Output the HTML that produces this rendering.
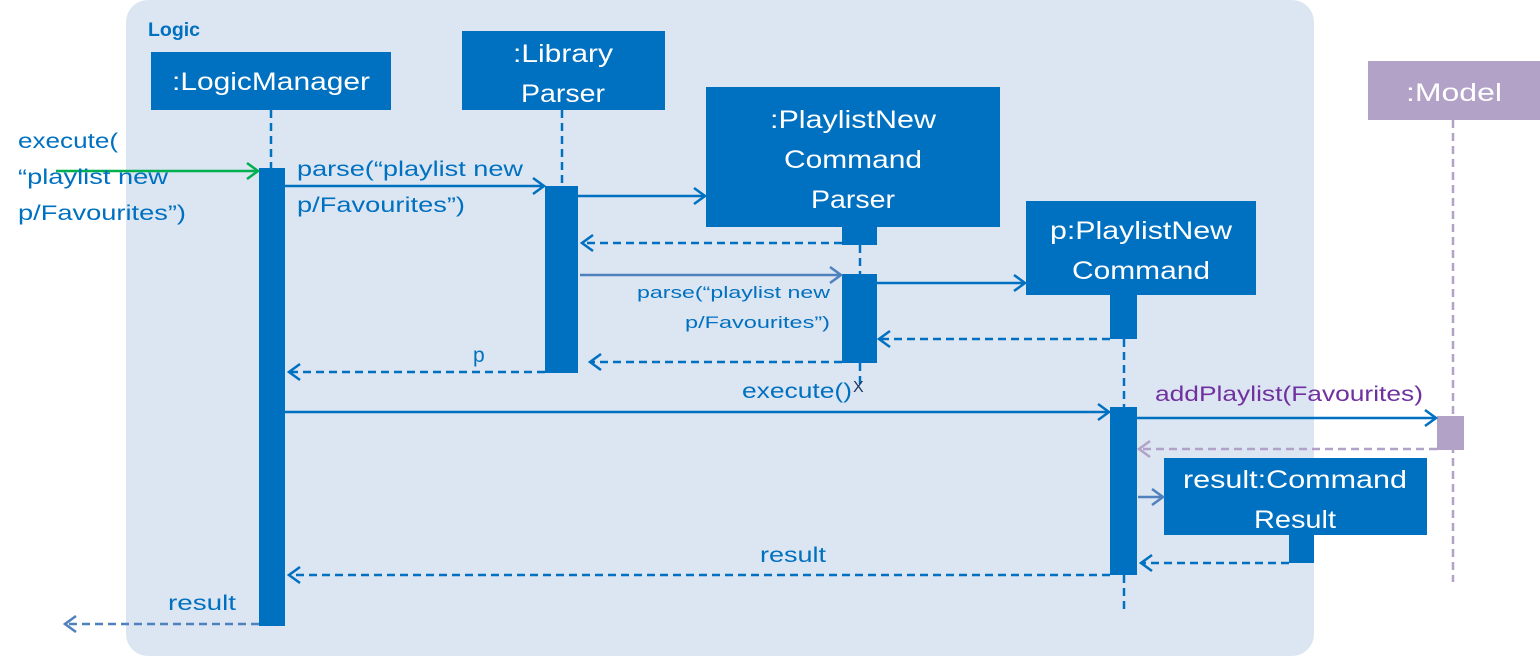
<!DOCTYPE html>
<html><head><meta charset="utf-8"><style>body{margin:0;background:#fff}svg{display:block}text{font-family:"Liberation Sans",sans-serif}</style></head><body>
<svg width="1540" height="656" viewBox="0 0 1540 656" xmlns="http://www.w3.org/2000/svg">
<defs>
<marker id="a" markerWidth="16" markerHeight="20" refX="14" refY="10" orient="auto" markerUnits="userSpaceOnUse"><path d="M3,2 L14,10 L3,18" fill="none" stroke="#0070c0" stroke-width="2.5"/></marker>
<marker id="g" markerWidth="16" markerHeight="20" refX="14" refY="10" orient="auto" markerUnits="userSpaceOnUse"><path d="M3,2 L14,10 L3,18" fill="none" stroke="#00b050" stroke-width="2.5"/></marker>
<marker id="l" markerWidth="16" markerHeight="20" refX="14" refY="10" orient="auto" markerUnits="userSpaceOnUse"><path d="M3,2 L14,10 L3,18" fill="none" stroke="#4f81bd" stroke-width="2.5"/></marker>
<marker id="p" markerWidth="16" markerHeight="20" refX="14" refY="10" orient="auto" markerUnits="userSpaceOnUse"><path d="M3,2 L14,10 L3,18" fill="none" stroke="#b3a2c7" stroke-width="2.5"/></marker>
</defs>
<rect x="126" y="0" width="1188" height="656" rx="22" fill="#dce6f2"/>
<text x="148" y="36" font-size="19" font-weight="bold" fill="#0070c0" textLength="52" lengthAdjust="spacingAndGlyphs">Logic</text>

<g fill="#0070c0">
<rect x="151" y="52" width="240" height="58"/>
<rect x="462" y="31" width="203" height="79"/>
<rect x="706" y="87" width="294" height="140"/>
<rect x="1026" y="201" width="230" height="94"/>
<rect x="1164" y="458" width="263" height="77"/>
<rect x="259" y="168" width="26" height="458"/>
<rect x="545" y="186" width="33" height="187"/>
<rect x="842" y="227" width="35" height="18"/>
<rect x="842" y="274" width="35" height="89"/>
<rect x="1110" y="295" width="27" height="44"/>
<rect x="1110" y="407" width="27" height="168"/>
<rect x="1289" y="535" width="25" height="28"/>
</g>
<rect x="1368" y="61" width="172" height="59" fill="#b3a2c7"/>
<rect x="1437" y="416" width="27" height="34" fill="#b3a2c7"/>

<g fill="#fff" font-size="25" text-anchor="middle">
<text x="271" y="90" textLength="198" lengthAdjust="spacingAndGlyphs">:LogicManager</text>
<text x="563" y="62" textLength="100" lengthAdjust="spacingAndGlyphs">:Library</text>
<text x="563" y="102" textLength="84" lengthAdjust="spacingAndGlyphs">Parser</text>
<text x="853" y="128" textLength="166" lengthAdjust="spacingAndGlyphs">:PlaylistNew</text>
<text x="853" y="168" textLength="138" lengthAdjust="spacingAndGlyphs">Command</text>
<text x="853" y="208" textLength="84" lengthAdjust="spacingAndGlyphs">Parser</text>
<text x="1141" y="239" textLength="182" lengthAdjust="spacingAndGlyphs">p:PlaylistNew</text>
<text x="1141" y="279" textLength="138" lengthAdjust="spacingAndGlyphs">Command</text>
<text x="1295" y="488" textLength="224" lengthAdjust="spacingAndGlyphs">result:Command</text>
<text x="1295" y="528" textLength="82" lengthAdjust="spacingAndGlyphs">Result</text>
<text x="1454" y="101" textLength="96" lengthAdjust="spacingAndGlyphs">:Model</text>
</g>

<g stroke="#0070c0" stroke-width="2.5" stroke-dasharray="8,5" fill="none">
<line x1="271" y1="110" x2="271" y2="168"/>
<line x1="562" y1="110" x2="562" y2="186"/>
<line x1="860" y1="245" x2="860" y2="274"/>
<line x1="860" y1="363" x2="860" y2="385"/>
<line x1="1124" y1="339" x2="1124" y2="407"/>
<line x1="1124" y1="575" x2="1124" y2="614"/>
<line x1="842" y1="243" x2="582" y2="243" marker-end="url(#a)"/>
<line x1="1110" y1="339" x2="879" y2="339" marker-end="url(#a)"/>
<line x1="842" y1="362" x2="590" y2="362" marker-end="url(#a)"/>
<line x1="545" y1="372" x2="289" y2="372" marker-end="url(#a)"/>
<line x1="1289" y1="563" x2="1141" y2="563" marker-end="url(#a)"/>
<line x1="1110" y1="575" x2="289" y2="575" marker-end="url(#a)"/>
</g>
<line x1="259" y1="624" x2="65" y2="624" stroke="#4f81bd" stroke-width="2.5" stroke-dasharray="8,5" marker-end="url(#l)"/>
<line x1="1453" y1="120" x2="1453" y2="582" stroke="#b3a2c7" stroke-width="2.5" stroke-dasharray="8,5"/>
<line x1="1437" y1="449" x2="1139" y2="449" stroke="#b3a2c7" stroke-width="2.5" stroke-dasharray="8,5" marker-end="url(#p)"/>

<g stroke="#0070c0" stroke-width="2.5" fill="none">
<line x1="285" y1="186" x2="544" y2="186" marker-end="url(#a)"/>
<line x1="578" y1="196" x2="705" y2="196" marker-end="url(#a)"/>
<line x1="877" y1="283" x2="1025" y2="283" marker-end="url(#a)"/>
<line x1="285" y1="412" x2="1109" y2="412" marker-end="url(#a)"/>
<line x1="1137" y1="418" x2="1436" y2="418" marker-end="url(#a)"/>
</g>
<line x1="56" y1="171" x2="258" y2="171" stroke="#00b050" stroke-width="2.5" marker-end="url(#g)"/>
<line x1="580" y1="275" x2="841" y2="275" stroke="#4f81bd" stroke-width="2.5" marker-end="url(#l)"/>
<line x1="1138" y1="497" x2="1163" y2="497" stroke="#4f81bd" stroke-width="2.5" marker-end="url(#l)"/>

<text x="853" y="392" font-size="16" fill="#1f3864">X</text>

<g fill="#0070c0" font-size="21">
<text x="18" y="148" textLength="100" lengthAdjust="spacingAndGlyphs">execute(</text>
<text x="18" y="184" textLength="150" lengthAdjust="spacingAndGlyphs">“playlist new</text>
<text x="18" y="220" textLength="168" lengthAdjust="spacingAndGlyphs">p/Favourites”)</text>
<text x="297" y="176" textLength="226" lengthAdjust="spacingAndGlyphs">parse(“playlist new</text>
<text x="297" y="212" textLength="168" lengthAdjust="spacingAndGlyphs">p/Favourites”)</text>
<text x="473" y="362">p</text>
<text x="742" y="398" textLength="110" lengthAdjust="spacingAndGlyphs">execute()</text>
<text x="760" y="562" textLength="66" lengthAdjust="spacingAndGlyphs">result</text>
<text x="168" y="610" textLength="68" lengthAdjust="spacingAndGlyphs">result</text>
</g>
<g fill="#0070c0" font-size="17" text-anchor="end">
<text x="830" y="298" textLength="193" lengthAdjust="spacingAndGlyphs">parse(“playlist new</text>
<text x="830" y="328" textLength="145" lengthAdjust="spacingAndGlyphs">p/Favourites”)</text>
</g>
<text x="1155" y="401" font-size="21" fill="#7030a0" textLength="268" lengthAdjust="spacingAndGlyphs">addPlaylist(Favourites)</text>
</svg>
</body></html>
